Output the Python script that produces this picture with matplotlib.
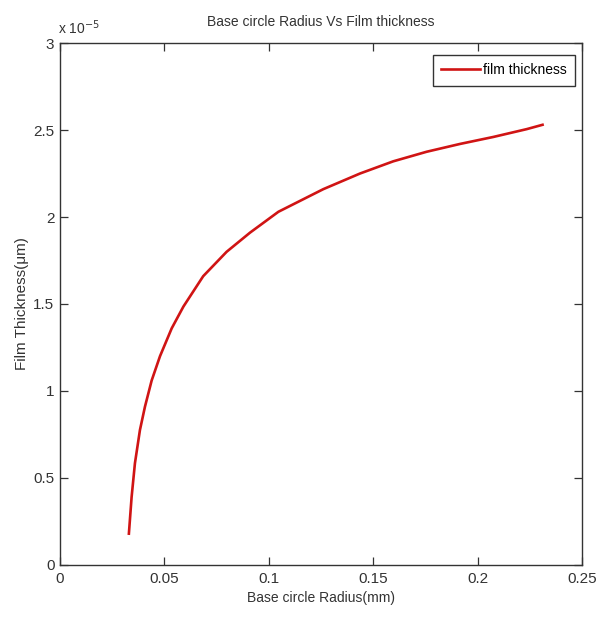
#!/usr/bin/env python

import matplotlib
matplotlib.use('Agg')
import matplotlib.pyplot as plt

# base circle radius (mm) and film thickness (x 1e-5)
radius = [0.0330, 0.0343, 0.0359, 0.0383, 0.0407, 0.0439, 0.0479, 0.0535,
          0.0591, 0.0686, 0.0798, 0.0910, 0.1046, 0.1261, 0.1437, 0.1596,
          0.1756, 0.1916, 0.2075, 0.2235, 0.2311]
thickness = [0.18, 0.39, 0.585, 0.776, 0.91, 1.06, 1.20, 1.36,
             1.485, 1.66, 1.80, 1.91, 2.03, 2.16, 2.25, 2.32,
             2.375, 2.42, 2.46, 2.505, 2.53]

x_ticks = [0, 0.05, 0.1, 0.15, 0.2, 0.25]
x_labels = ['0', '0.05', '0.1', '0.15', '0.2', '0.25']
y_ticks = [0, 0.5, 1, 1.5, 2, 2.5, 3]
y_labels = ['0', '0.5', '1', '1.5', '2', '2.5', '3']

plt.rcParams['font.family'] = ['Liberation Sans', 'DejaVu Sans']
ink = '#333333'

fig = plt.figure(figsize=(6.04, 6.18), dpi=100)
ax = fig.add_axes([0.0993, 0.0858, 0.8643, 0.8446])

ax.plot(radius, thickness, color='#d01414', linewidth=1.9,
        solid_joinstyle='round', label='film thickness')

ax.set_xlim(0, 0.25)
ax.set_ylim(0, 3)
ax.set_xticks(x_ticks, x_labels)
ax.set_yticks(y_ticks, y_labels)
ax.tick_params(direction='in', length=6, width=0.9, top=True, right=True,
               labelsize=11, colors=ink)
ax.tick_params(axis='x', pad=5)
ax.tick_params(axis='y', pad=4)
for s in ax.spines.values():
    s.set_linewidth(1.0)
    s.set_color(ink)

ax.text(-0.004, 1.012, r'x 10$^{-5}$', transform=ax.transAxes, fontsize=10,
        ha='left', va='bottom', color=ink)
ax.set_title('Base circle Radius Vs Film thickness', fontsize=10, pad=12,
             color=ink)
ax.set_xlabel('Base circle Radius(mm)', fontsize=10, labelpad=4, color=ink)
ax.set_ylabel('Film Thickness(\u03bcm)', fontsize=11, labelpad=3, color=ink)

leg = ax.legend(loc='upper right', bbox_to_anchor=(0.9866, 0.977),
                borderaxespad=0, fontsize=10, fancybox=False, framealpha=1,
                edgecolor=ink, handlelength=2.8, handletextpad=0.2,
                borderpad=0.6)
leg.get_frame().set_linewidth(1.0)

fig.savefig('out.png', dpi=100, facecolor='white')
plt.close(fig)
